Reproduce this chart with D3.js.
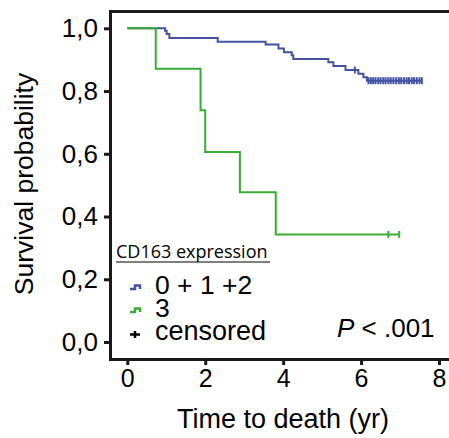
<!DOCTYPE html>
<html>
<head>
<meta charset="utf-8">
<script src="https://cdn.jsdelivr.net/npm/d3@7"></script>
<style>
  body { margin: 0; background: #fff; }
  text { font-family: "Liberation Sans", Arial, sans-serif; fill: #000; }
</style>
</head>
<body>
<div id="chart"></div>
<script>
const width = 449, height = 438;

// event times (yr) and survival after each step
const lowTimes = [0, 0.97, 1.01, 1.08, 2.32, 3.55, 3.88, 4.02, 4.22, 4.26, 5.16, 5.29, 5.60, 5.93, 6.06, 6.15];
const lowSurv  = [1, 0.992, 0.982, 0.969, 0.957, 0.948, 0.936, 0.924, 0.914, 0.902, 0.892, 0.880, 0.867, 0.855, 0.844, 0.833];
const lowCensor = [5.84, 6.19, 6.25, 6.31, 6.37, 6.44, 6.50, 6.57, 6.63, 6.70, 6.76, 6.83, 6.90,
                   6.97, 7.03, 7.10, 7.17, 7.23, 7.30, 7.36, 7.43, 7.50, 7.56];
const lowEnd = 7.56;

const highTimes = [0, 0.73, 1.88, 2.0, 2.89, 3.81];
const highSurv  = [1, 0.871, 0.739, 0.606, 0.477, 0.343];
const highCensor = [6.70, 6.98];
const highEnd = 7.0;

const xTicks = [0, 2, 4, 6, 8];
const yTicks = [0, 0.2, 0.4, 0.6, 0.8, 1.0];

const blue = "#4352a3", green = "#3aab36";

const svg = d3.select("#chart").append("svg")
    .attr("width", width)
    .attr("height", height);

const x = d3.scaleLinear().domain([0, 8]).range([127.3, 439]);
const y = d3.scaleLinear().domain([0, 1]).range([342, 28.3]);

// frame: left, top, bottom
svg.append("path")
    .attr("d", "M449,11.5 H110.5 V359.5 H449")
    .attr("fill", "none")
    .attr("stroke", "#1a1a1a")
    .attr("stroke-width", 3);

const yAxis = svg.append("g")
    .attr("transform", "translate(110,0)")
    .call(d3.axisLeft(y).tickValues(yTicks).tickSize(6).tickPadding(6)
        .tickFormat(d => d3.format(".1f")(d).replace(".", ",")));
yAxis.select(".domain").remove();
yAxis.selectAll("line").attr("stroke", "#1a1a1a").attr("stroke-width", 3);
yAxis.selectAll("text").style("font-size", "26px").attr("font-family", null);

const xAxis = svg.append("g")
    .attr("transform", "translate(0,359)")
    .call(d3.axisBottom(x).tickValues(xTicks).tickSize(6).tickPadding(4));
xAxis.select(".domain").remove();
xAxis.selectAll("line").attr("stroke", "#1a1a1a").attr("stroke-width", 3);
xAxis.selectAll("text").style("font-size", "25px").attr("font-family", null);

svg.append("text")
    .attr("x", 283).attr("y", 428)
    .attr("text-anchor", "middle")
    .style("font-size", "27px")
    .text("Time to death (yr)");

svg.append("text")
    .attr("transform", "translate(33,184) rotate(-90)")
    .attr("text-anchor", "middle")
    .style("font-size", "26.5px")
    .text("Survival probability");

const line = d3.line()
    .x(d => x(d[0]))
    .y(d => y(d[1]))
    .curve(d3.curveStepAfter);

function drawCurve(times, surv, censor, end, color) {
    const pts = times.map((t, i) => [t, surv[i]]);
    pts.push([end, surv[surv.length - 1]]);
    svg.append("path")
        .attr("d", line(pts))
        .attr("fill", "none")
        .attr("stroke", color)
        .attr("stroke-width", 2);
    const survAt = t => {
        let s = 1;
        times.forEach((tt, i) => { if (tt <= t) s = surv[i]; });
        return s;
    };
    svg.append("g").selectAll("line")
        .data(censor)
        .enter().append("line")
        .attr("x1", d => x(d)).attr("x2", d => x(d))
        .attr("y1", d => y(survAt(d)) - 3.5)
        .attr("y2", d => y(survAt(d)) + 3.5)
        .attr("stroke", color)
        .attr("stroke-width", 2);
}

drawCurve(lowTimes, lowSurv, lowCensor, lowEnd, blue);
drawCurve(highTimes, highSurv, highCensor, highEnd, green);

// legend
svg.append("text")
    .attr("x", 116).attr("y", 258)
    .style("font-family", "'Open Sans', sans-serif")
    .style("font-size", "18px")
    .text("CD163 expression");
svg.append("line")
    .attr("x1", 116).attr("x2", 270)
    .attr("y1", 262).attr("y2", 262)
    .attr("stroke", "#000").attr("stroke-width", 1);

const legendItems = [
    { label: "0 + 1 +2", color: blue, y: 294 },
    { label: "3", color: green, y: 317 }
];
legendItems.forEach(d => {
    svg.append("path")
        .attr("d", `M130,${d.y - 5} h5 v-3.5 h5 v3.5`)
        .attr("fill", "none")
        .attr("stroke", d.color)
        .attr("stroke-width", 2.5);
    svg.append("text")
        .attr("x", 155).attr("y", d.y)
        .style("font-size", "26.5px")
        .text(d.label);
});
svg.append("path")
    .attr("d", "M130,334.5 h10 M135,331 v7")
    .attr("stroke", "#000")
    .attr("stroke-width", 2.5);
svg.append("text")
    .attr("x", 155).attr("y", 340)
    .style("font-size", "27px")
    .text("censored");

const pText = svg.append("text")
    .attr("x", 337).attr("y", 337)
    .style("font-size", "26px");
pText.append("tspan").style("font-style", "italic").text("P");
pText.append("tspan").text(" < .001");
</script>
</body>
</html>
